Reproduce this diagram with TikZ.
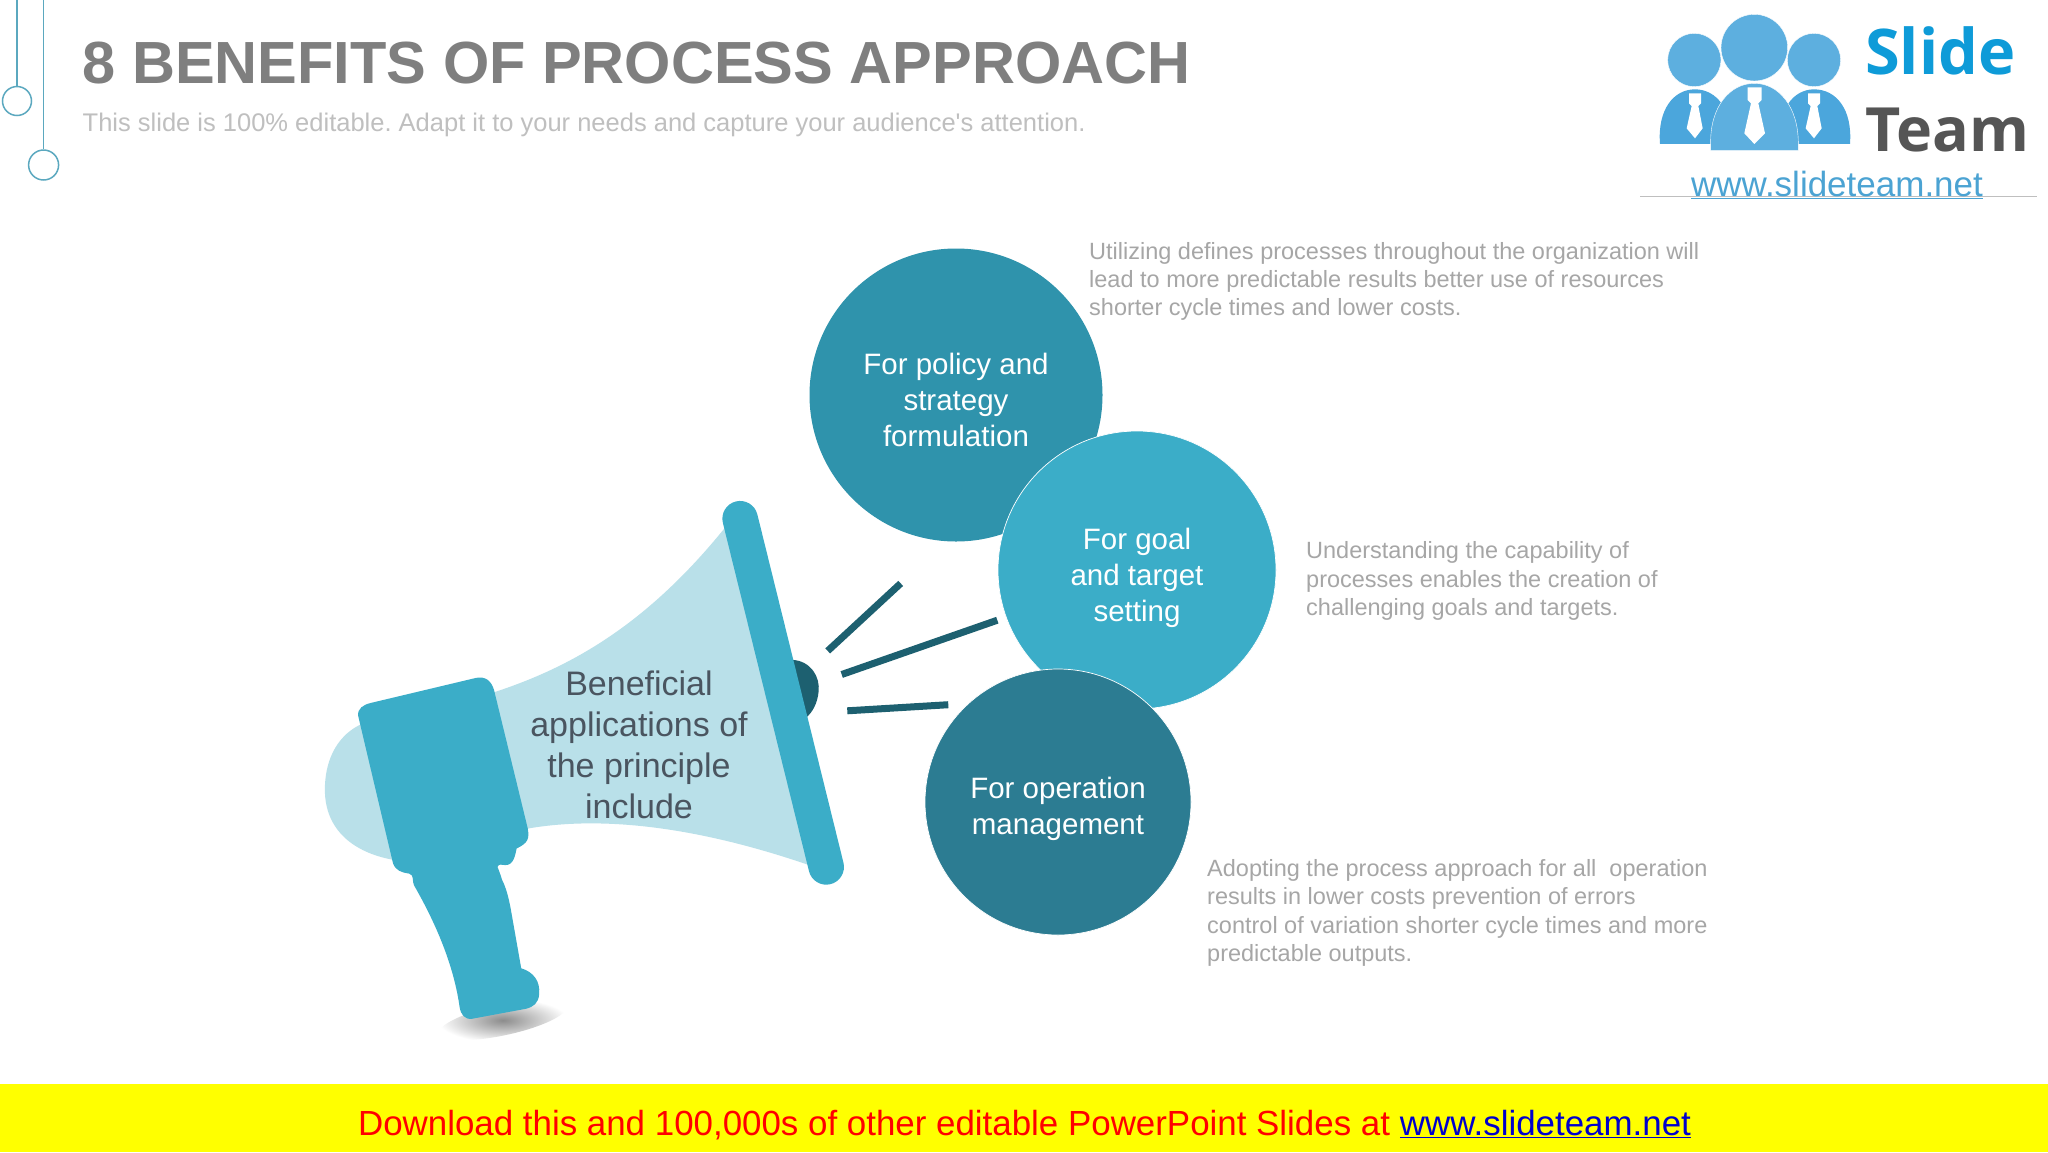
\documentclass[tikz,border=0pt]{standalone}
\usepackage{fontspec}
\setmainfont{Liberation Sans}
\newfontfamily\logofont{Open Sans}
\frenchspacing
\usetikzlibrary{positioning}
\definecolor{policyblue}{HTML}{2F93AC}
\definecolor{goalblue}{HTML}{3BADC8}
\definecolor{operationblue}{HTML}{2C7C92}
\definecolor{hornblue}{HTML}{B9E0E9}
\definecolor{rayblue}{HTML}{1D6070}
\definecolor{linegray}{HTML}{A6A6A6}
\definecolor{titlegray}{HTML}{7F7F7F}
\definecolor{subgray}{HTML}{BFBFBF}
\definecolor{hornink}{HTML}{4A5560}
\definecolor{hookblue}{HTML}{5BA8BF}
\definecolor{peopleblue}{HTML}{4BA6DC}
\definecolor{slideblue}{HTML}{0E9BD8}
\definecolor{teamgray}{HTML}{555555}
\definecolor{urlblue}{HTML}{4BA3D3}
\definecolor{linkblue}{HTML}{0000CC}
\definecolor{bannerred}{HTML}{FF0000}
\definecolor{banneryellow}{HTML}{FFFF00}
\tikzset{
  bubble/.style = {circle, inner sep = 0pt},
  bubbletext/.style = {inner sep = 0pt, align = center, text = white, anchor = center, font = \fontsize{29.5}{36}\selectfont},
  note/.style = {inner sep = 0pt, align = left, text = linegray, anchor = west, font = \fontsize{23.5}{28.3}\selectfont},
  ray/.style = {draw = rayblue, line width = 7pt},
  hook/.style = {draw = hookblue, line width = 1.5pt}
}
\begin{document}
\begin{tikzpicture}[x = 1pt, y = -1pt]
  \useasboundingbox (0,0) rectangle (2048,1152);
  \fill[white] (0,0) rectangle (2048,1152);

  \coordinate (hooka) at (17,0);
  \coordinate (hookb) at (43.6,0);
  \node (ringa) [circle, hook, minimum size = 29pt, inner sep = 0pt] at (17,101) {};
  \node (ringb) [circle, hook, minimum size = 30pt, inner sep = 0pt] at (43.6,165) {};
  \draw[hook] (hooka) -- (ringa);
  \draw[hook] (hookb) -- (ringb);

  \node (title) [anchor = base west, inner sep = 0pt, text = titlegray, font = \fontsize{59.5}{60}\selectfont\bfseries] at (82.5,83) {8 BENEFITS OF PROCESS APPROACH};
  \node (subtitle) [below = 30pt of title.base west, anchor = north west, inner sep = 0pt, text = subgray, font = \fontsize{25.5}{30}\selectfont] {This slide is 100\% editable. Adapt it to your needs and capture your audience\textquotesingle s attention.};

  \begin{scope}[shift = {(1620,0)}, x = 0.3333pt, y = -0.3333pt]
    \fill[peopleblue] (120,432) .. controls (112,330) and (160,268) .. (225,268) .. controls (290,268) and (340,330) .. (330,432) -- cycle;
    \fill[peopleblue] (690,432) .. controls (698,330) and (650,268) .. (582,268) .. controls (520,268) and (470,330) .. (480,432) -- cycle;
    \fill[peopleblue!90!white, draw = white] (272,452) -- (272,430) .. controls (270,320) and (330,250) .. (403,250) .. controls (476,250) and (535,320) .. (535,430) -- (535,452) -- cycle;
    \fill[peopleblue!90!white, draw = white] (223,180) circle [radius = 80];
    \fill[peopleblue!90!white, draw = white] (582,180) circle [radius = 80];
    \fill[peopleblue!90!white, draw = white] (403,143) circle [radius = 100];
    \fill[white] (383,262) -- (425,262) -- (425,300) -- (415,310) -- (435,400) -- (403,432) -- (373,400) -- (393,310) -- (383,300) -- cycle;
    \fill[white] (207,280) -- (243,280) -- (243,310) -- (235,318) -- (248,385) -- (225,415) -- (200,385) -- (215,318) -- (207,310) -- cycle;
    \fill[white] (564,280) -- (600,280) -- (600,310) -- (592,318) -- (605,385) -- (582,415) -- (557,385) -- (572,318) -- (564,310) -- cycle;
  \end{scope}
  \node (logoslide) [anchor = base west, inner sep = 0pt, text = slideblue, font = \fontsize{63}{64}\selectfont\logofont\bfseries] at (1865,74) {Slide};
  \node (logoteam) [anchor = base west, inner sep = 0pt, text = teamgray, font = \fontsize{61}{62}\selectfont\logofont\bfseries] at (1865,151.5) {Team};
  \coordinate (logorulea) at (1640,196);
  \coordinate (logoruleb) at (2037,196);
  \draw[subgray, line width = 0.8pt] (logorulea) -- (logoruleb);
  \node (logourl) [anchor = base, inner sep = 0pt, text = urlblue, font = \fontsize{35}{37}\selectfont] at (1837,196) {\underline{www.slideteam.net}};

  \begin{scope}[shift = {(300,480)}, x = 0.3827pt, y = -0.3685pt]
    \shade[inner color = gray!90, outer color = white, shading = radial] (530,1465) ellipse [x radius = 170, y radius = 42, rotate = 12];
    \fill[hornblue] (1110,130) .. controls (900,400) and (700,510) .. (510,575) -- (155,665) .. controls (90,700) and (65,770) .. (65,840) .. controls (65,950) and (140,1010) .. (240,1030) -- (600,945) .. controls (800,910) and (1050,945) .. (1330,1045) -- cycle;
    \fill[rayblue] (1285,488) .. controls (1335,490) and (1360,535) .. (1355,575) .. controls (1352,605) and (1340,630) .. (1322,645) -- cycle;
    \draw[goalblue, line width = 35.5pt, line cap = round] (1150,105) -- (1375,1050);
    \fill[goalblue] (152,640) .. controls (150,620) and (165,610) .. (185,605) -- (460,537) .. controls (485,532) and (500,545) .. (507,570) -- (595,945) .. controls (600,975) and (595,985) .. (566,1000) .. controls (562,1020) and (558,1045) .. (537,1045) .. controls (527,1045) and (520,1040) .. (516,1050) .. controls (522,1065) and (525,1075) .. (528,1085) .. controls (540,1110) and (545,1135) .. (550,1160) -- (578,1325) .. controls (610,1335) and (628,1360) .. (625,1395) .. controls (623,1420) and (610,1430) .. (590,1435) -- (450,1462) .. controls (430,1465) and (420,1450) .. (417,1430) .. controls (405,1340) and (370,1230) .. (298,1100) .. controls (292,1090) and (300,1072) .. (285,1068) .. controls (265,1065) and (250,1060) .. (243,1040) -- cycle;
  \end{scope}
  \node (horntext) [inner sep = 0pt, align = center, text = hornink, font = \fontsize{34}{41}\selectfont] at (639,745) {Beneficial\\applications of\\the principle\\include};

  \coordinate (raya) at (827.7,650.9);
  \coordinate (rayb) at (900.7,583.4);
  \coordinate (rayc) at (841.7,674.5);
  \coordinate (rayd) at (997.3,620.2);
  \coordinate (raye) at (847.3,710.8);
  \coordinate (rayf) at (948.3,704.7);
  \draw[ray] (raya) -- (rayb);
  \draw[ray] (rayc) -- (rayd);
  \draw[ray] (raye) -- (rayf);

  \node (policy) [bubble, fill = policyblue, minimum size = 293pt] at (956,395) {};
  \node (goal) [bubble, fill = goalblue, draw = white, line width = 0.7pt, minimum size = 278pt] at (1137,570) {};
  \node (operation) [bubble, fill = operationblue, draw = white, line width = 0.7pt, minimum size = 266pt] at (1058,802) {};
  \node (policytext) [below = 5pt of policy.center, bubbletext] {For policy and\\strategy\\formulation};
  \node (goaltext) [below = 8pt of goal.center, bubbletext] {For goal\\and target\\setting};
  \node (operationtext) [below = 7pt of operation.center, bubbletext] {For operation\\management};

  \node (policynote) [above right = 113.5pt and 133pt of policy.center, note] {Utilizing defines processes throughout the organization will\\lead to more predictable results better use of resources\\shorter cycle times and lower costs.};
  \node (goalnote) [below right = 11pt and 169pt of goal.center, note] {Understanding the capability of\\processes enables the creation of\\challenging goals and targets.};
  \node (operationnote) [below right = 111pt and 149pt of operation.center, note] {Adopting the process approach for all\ \ operation\\results in lower costs prevention of errors\\control of variation shorter cycle times and more\\predictable outputs.};

  \fill[banneryellow] (0,1084) rectangle (2048,1152);
  \node (banner) [inner sep = 0pt, anchor = base, text = bannerred, font = \fontsize{34.9}{38}\selectfont] at (1024.5,1135) {Download this and 100,000s of other editable PowerPoint Slides at {\color{linkblue}\underline{www.slideteam.net}}};
\end{tikzpicture}
\end{document}
